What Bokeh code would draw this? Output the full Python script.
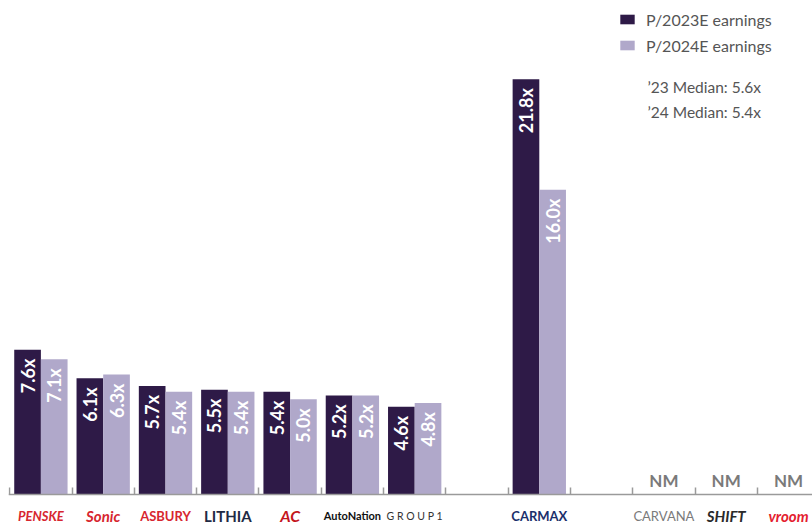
import math
from bokeh.plotting import figure
from bokeh.models import (ColumnDataSource, LinearAxis, FixedTicker, Label,
                          Legend, LegendItem, Range1d)
from bokeh.core.properties import value
from bokeh.embed import file_html
from bokeh.resources import INLINE

nan = float("nan")

# ---- data ----
companies = ["PENSKE", "Sonic", "ASBURY", "LITHIA", "AC", "AutoNation", "G R O U P 1",
             "", "CARMAX", "", "CARVANA", "SHIFT", "vroom"]
pe_2023 = [7.6, 6.1, 5.7, 5.5, 5.4, 5.2, 4.6, nan, 21.8, nan, nan, nan, nan]
pe_2024 = [7.1, 6.3, 5.4, 5.4, 5.0, 5.2, 4.8, nan, 16.0, nan, nan, nan, nan]
nm_flags = ["", "", "", "", "", "", "", "", "", "", "NM", "NM", "NM"]
series = ["P/2023E earnings", "P/2024E earnings"]
medians = ["\u201923 Median: 5.6x", "\u201924 Median: 5.4x"]

# ---- look of the name "logos" (style only) ----
logo_look = {
    "PENSKE":      ("#d7262f", "bold italic", "13px"),
    "Sonic":       ("#d7262f", "bold italic", "15px"),
    "ASBURY":      ("#d7262f", "bold", "13px"),
    "LITHIA":      ("#1f2a44", "bold", "15px"),
    "AC":          ("#c4161c", "bold italic", "16px"),
    "AutoNation":  ("#111111", "bold", "11px"),
    "G R O U P 1": ("#333333", "normal", "10.5px"),
    "CARMAX":      ("#1b2f6b", "bold", "13px"),
    "CARVANA":     ("#7a7a7a", "normal", "13px"),
    "SHIFT":       ("#2a2a2a", "bold italic", "15px"),
    "vroom":       ("#e4202e", "bold italic", "15px"),
}

DARK = "#2e1a47"
LIGHT = "#b0a8ca"
FONT = "Lato"

n = len(companies)
centers = [i + 0.5 for i in range(n)]
off = 0.214
bw = 0.428

bars = [i for i in range(n) if not math.isnan(pe_2023[i])]
nms = [i for i in range(n) if nm_flags[i]]
named = [i for i in range(n) if companies[i]]

bar_src = ColumnDataSource(dict(
    x1=[centers[i] - off for i in bars],
    x2=[centers[i] + off for i in bars],
    y1=[pe_2023[i] for i in bars], y2=[pe_2024[i] for i in bars],
    t1=[f"{pe_2023[i]:.1f}x" for i in bars], t2=[f"{pe_2024[i]:.1f}x" for i in bars],
))
nm_src = ColumnDataSource(dict(xc=[centers[i] for i in nms], zero=[0] * len(nms),
                               nm=[nm_flags[i] for i in nms]))
logo_src = ColumnDataSource(dict(xc=[centers[i] for i in named],
                                 zero=[0] * len(named),
                                 name=[companies[i] for i in named],
                                 lc=[logo_look[companies[i]][0] for i in named],
                                 ls=[logo_look[companies[i]][1] for i in named],
                                 fs=[logo_look[companies[i]][2] for i in named]))

W, H = 812, 526
px_per_cat = 62.3
px_per_unit = 19.05
x0 = -0.02
frame_w = W - 8
frame_h = H - 8
base_from_bottom = 32          # baseline sits 32px above the bottom edge
y_lo = -base_from_bottom / px_per_unit
p = figure(width=W, height=H, output_backend="svg", toolbar_location=None,
           x_range=Range1d(x0, x0 + frame_w / px_per_cat),
           y_range=Range1d(y_lo, y_lo + frame_h / px_per_unit),
           x_axis_location=None, y_axis_location=None,
           min_border_left=8, min_border_right=0, min_border_top=8, min_border_bottom=0,
           outline_line_color=None, background_fill_color="white")
p.xgrid.visible = False
p.ygrid.visible = False

r1 = p.vbar(x="x1", top="y1", width=bw, source=bar_src, fill_color=DARK, line_color=None)
r2 = p.vbar(x="x2", top="y2", width=bw, source=bar_src, fill_color=LIGHT, line_color=None)

for xf, yf, tf in (("x1", "y1", "t1"), ("x2", "y2", "t2")):
    p.text(x=xf, y=yf, text=tf, source=bar_src, angle=math.pi / 2,
           text_align="right", text_baseline="middle", y_offset=9,
           text_color="white", text_font=value(FONT), text_font_style="bold",
           text_font_size="18px")

p.text(x="xc", y="zero", text="nm", source=nm_src, text_align="center",
       text_baseline="middle", y_offset=-14, text_color="#7a7a7a",
       text_font=value(FONT), text_font_style="bold", text_font_size="17px")

# company names below the baseline
p.text(x="xc", y="zero", text="name", source=logo_src, text_align="center",
       text_baseline="middle", y_offset=21, text_color="lc", text_font_style="ls",
       text_font=value(FONT), text_font_size="fs")

axis = LinearAxis(ticker=FixedTicker(ticks=list(range(0, n + 1))), fixed_location=0,
                  major_label_text_color=None, major_label_text_font_size="1px",
                  major_label_standoff=0,
                  major_tick_in=7, major_tick_out=0,
                  minor_tick_line_color=None,
                  axis_line_color="#9a9a9a", axis_line_width=1.5,
                  major_tick_line_color="#9a9a9a", major_tick_line_width=1.5)
p.add_layout(axis, "below")

legend = Legend(items=[LegendItem(label=series[0], renderers=[r1]),
                       LegendItem(label=series[1], renderers=[r2])],
                location=(610, frame_h - 47), padding=0, margin=0, spacing=6,
                glyph_width=18, glyph_height=12, label_standoff=10, label_height=20,
                label_text_font=FONT, label_text_font_size="16px",
                label_text_color="#555555", border_line_color=None,
                background_fill_alpha=0)
p.add_layout(legend)

for txt, top_off in zip(medians, (78, 103)):
    p.add_layout(Label(x=639, y=frame_h - top_off, x_units="screen", y_units="screen",
                       text=txt, text_baseline="middle", text_font=FONT,
                       text_font_size="15.5px", text_color="#555555"))

open("out.html", "w").write(file_html(p, INLINE))
